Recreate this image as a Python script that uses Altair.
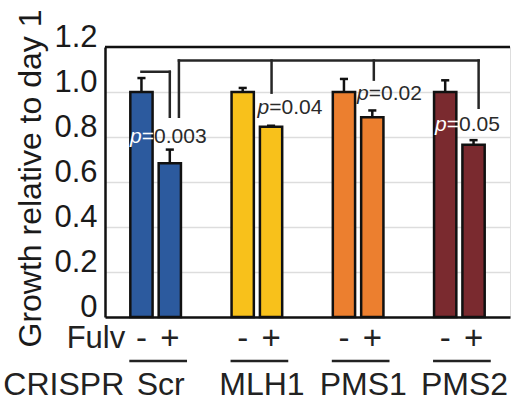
import altair as alt
import pandas as pd

groups = ["Scr", "MLH1", "PMS1", "PMS2"]
fulv = ["-", "+"]
colors = ["#2C5A9E", "#F8C11B", "#EC7F2F", "#7A2A2F"]
means_minus = [1.0, 1.0, 1.0, 1.0]
means_plus = [0.683, 0.846, 0.888, 0.766]
err_minus = [0.062, 0.018, 0.058, 0.052]
err_plus = [0.061, 0.004, 0.030, 0.020]
p_values = ["0.003", "0.04", "0.02", "0.05"]
p_label_x = [0.247, 1.506, 2.489, 3.259]
p_label_y = [0.80, 0.93, 0.99, 0.854]
p_prefix_white = [True, False, False, True]
y_ticks = [0, 0.2, 0.4, 0.6, 0.8, 1.0, 1.2]

OFF = 0.14
HALF = 0.11
CAP = 0.04

rows = []
for gi, g in enumerate(groups):
    for fi, f in enumerate(fulv):
        c = gi + 0.5 + (-OFF if f == "-" else OFF)
        v = means_minus[gi] if f == "-" else means_plus[gi]
        e = err_minus[gi] if f == "-" else err_plus[gi]
        rows.append(dict(group=g, fulv=f, xc=c, x0=c - HALF, x1=c + HALF,
                         cap0=c - CAP, cap1=c + CAP, value=v, top=v + e))
bars_df = pd.DataFrame(rows)

xscale = alt.Scale(domain=[0, 4], nice=False, zero=False)
yscale = alt.Scale(domain=[0, 1.2], nice=False)

xaxis = alt.Axis(labels=False, ticks=False, grid=False, title=None,
                 domainColor="#111111", domainWidth=2.5)
yaxis = alt.Axis(values=y_ticks, ticks=False, grid=True, gridColor="#dddddd",
                 gridWidth=1.5, domainColor="#111111", domainWidth=2.5,
                 labelFontSize=31, labelColor="#1a1a1a", labelPadding=8,
                 labelBaseline="alphabetic", labelOffset=-1,
                 labelExpr="datum.value == 0 ? '0' : format(datum.value, '.1f')",
                 title="Growth relative to day 1", titleFontSize=32,
                 titleFontWeight="normal", titleColor="#1a1a1a",
                 titleX=-75, titleY=131, titleAlign="center", titleBaseline="middle")

bars = alt.Chart(bars_df).mark_rect(stroke="#111111", strokeWidth=2.5).encode(
    x=alt.X("x0:Q", scale=xscale, axis=xaxis),
    x2="x1:Q",
    y=alt.Y("value:Q", scale=yscale, axis=yaxis),
    y2=alt.datum(0),
    color=alt.Color("group:N", scale=alt.Scale(domain=groups, range=colors), legend=None),
)

err = alt.Chart(bars_df).mark_rule(color="#111111", strokeWidth=2.5).encode(
    x="xc:Q", y="value:Q", y2="top:Q")
caps = alt.Chart(bars_df).mark_rule(color="#111111", strokeWidth=2.5).encode(
    x="cap0:Q", x2="cap1:Q", y="top:Q")

# comparison brackets (from - bar / + bar centres to p-value positions)
seg = [
    (0.5 - OFF, 1.09, 0.5 + OFF, 1.09),
    (0.5 + OFF, 1.09, 0.5 + OFF, 0.89),
    (0.73, 0.89, 0.73, 1.14),
    (0.73, 1.14, 3.69, 1.14),
    (3.69, 1.14, 3.69, 0.93),
    (1.645, 1.14, 1.645, 0.997),
    (2.655, 1.14, 2.655, 1.055),
]
seg_df = pd.DataFrame(seg, columns=["xa", "ya", "xb", "yb"])
brackets = alt.Chart(seg_df).mark_rule(color="#262626", strokeWidth=2.5,
                                       strokeCap="square").encode(
    x="xa:Q", y="ya:Q", x2="xb:Q", y2="yb:Q")

top_df = pd.DataFrame({"y": [1.2], "xa": [0], "xb": [4]})
top_line = alt.Chart(top_df).mark_rule(color="#111111", strokeWidth=2.5).encode(
    x="xa:Q", x2="xb:Q", y="y:Q")

p_df = pd.DataFrame({
    "x": p_label_x, "y": p_label_y, "num": p_values,
    "pc": ["#ffffff" if w else "#2a2a2a" for w in p_prefix_white],
})
pfs = 21
p_p = alt.Chart(p_df).mark_text(align="left", baseline="middle", fontSize=pfs,
                                fontStyle="italic").encode(
    x="x:Q", y="y:Q", text=alt.value("p"), color=alt.Color("pc:N", scale=None))
p_eq = alt.Chart(p_df).mark_text(align="left", baseline="middle", fontSize=pfs,
                                 dx=11.7).encode(
    x="x:Q", y="y:Q", text=alt.value("="), color=alt.Color("pc:N", scale=None))
p_num = alt.Chart(p_df).mark_text(align="left", baseline="middle", fontSize=pfs,
                                  dx=24, color="#2a2a2a").encode(
    x="x:Q", y="y:Q", text="num:N")

# bottom labelling rows
FULV_Y = -0.099
LINE_Y = -0.195
GENE_Y = -0.30
BFS = 31
sign_df = bars_df[["xc", "fulv"]].copy()
signs = alt.Chart(sign_df).mark_text(fontSize=BFS + 2, baseline="middle",
                                     color="#222222").encode(
    x="xc:Q", y=alt.datum(FULV_Y), text="fulv:N")

ul_df = pd.DataFrame({"xa": [i + 0.24 for i in range(4)],
                      "xb": [i + 0.81 for i in range(4)],
                      "y": [LINE_Y] * 4})
underlines = alt.Chart(ul_df).mark_rule(color="#222222", strokeWidth=2.5).encode(
    x="xa:Q", x2="xb:Q", y="y:Q")

gene_df = pd.DataFrame({"x": [i + 0.55 for i in range(4)], "g": groups})
genes = alt.Chart(gene_df).mark_text(fontSize=32, baseline="middle",
                                     color="#222222").encode(
    x="x:Q", y=alt.datum(GENE_Y), text="g:N")

row_df = pd.DataFrame({"x": [0.2, 0.19], "y": [FULV_Y, GENE_Y], "t": ["Fulv", "CRISPR"],
                       "fs": [BFS, 32]})
row_labels = alt.Chart(row_df).mark_text(baseline="middle", align="right",
                                         color="#222222").encode(
    x="x:Q", y="y:Q", text="t:N", size=alt.Size("fs:Q", scale=None, legend=None))

chart = alt.layer(bars, err, caps, brackets, top_line, p_p, p_eq, p_num,
                  signs, underlines, genes, row_labels).properties(
    width=405, height=270,
    autosize=alt.AutoSizeParams(type="none"),
    padding={"left": 105, "top": 47, "right": 1, "bottom": 83},
).configure_view(stroke="#aaaaaa", strokeWidth=1).configure(font="Liberation Sans")

chart.save("out.html", embed_options={"renderer": "svg", "actions": False})
